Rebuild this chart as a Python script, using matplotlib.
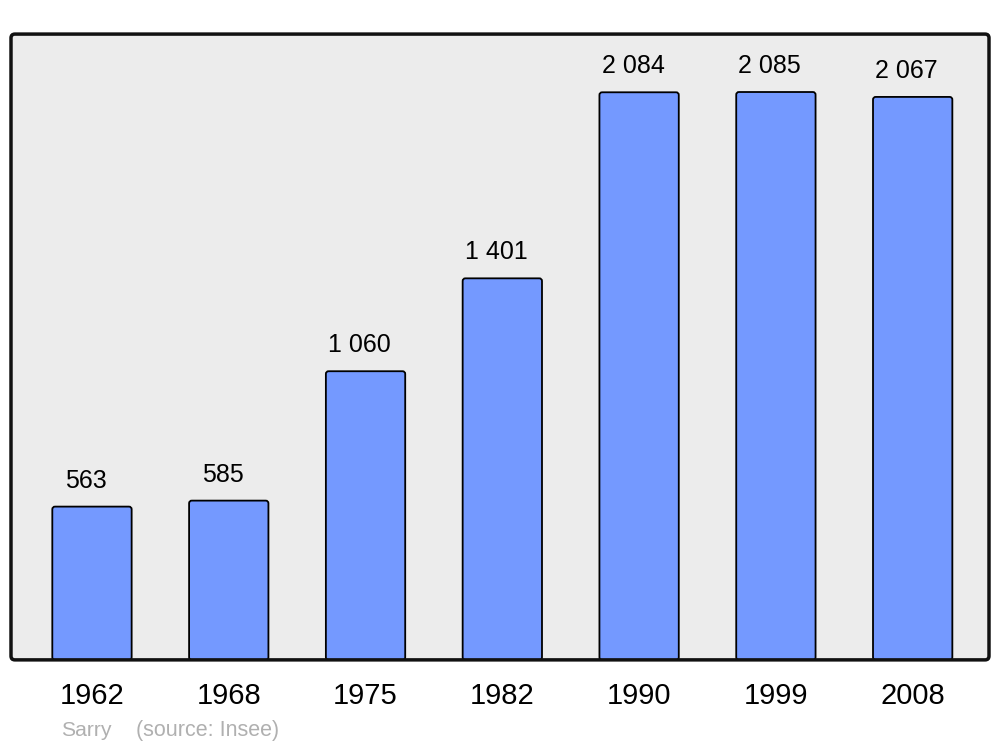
import matplotlib.pyplot as plt
from matplotlib.patches import FancyBboxPatch

plt.rcParams['font.family'] = ['Liberation Sans', 'DejaVu Sans']

# population data
years = ['1962', '1968', '1975', '1982', '1990', '1999', '2008']
population = [563, 585, 1060, 1401, 2084, 2085, 2067]
value_labels = ['563', '585', '1 060', '1 401', '2 084', '2 085', '2 067']

fig = plt.figure(figsize=(10, 7.47), dpi=100)
ax = fig.add_axes([0.011, 0.1165, 0.978, 0.838])
ax.set_facecolor('#ececec')

x = list(range(len(years)))
bars = ax.bar(x, population, width=0.58, color='#7499ff', edgecolor='black', linewidth=1.3)

ax.set_xlim(-0.592, 6.558)
ax.set_ylim(0, 2298)

# swap plain bars for rounded ones
for b in bars:
    bx, by = b.get_x(), b.get_y()
    w, h = b.get_width(), b.get_height()
    r = 0.02
    rounded = FancyBboxPatch((bx + r, by + r * 500), w - 2 * r, h - 2 * r * 500,
                             boxstyle='round,pad=%f,rounding_size=%f' % (r, r),
                             mutation_aspect=500, facecolor='#7499ff',
                             edgecolor='black', linewidth=1.3, zorder=2)
    ax.add_patch(rounded)
    b.set_visible(False)

for xi, val, lab in zip(x, population, value_labels):
    ax.annotate(lab, (xi - 0.045, val), xytext=(0, 10), textcoords='offset points',
                ha='center', va='bottom', fontsize=18)

ax.set_xticks(x)
ax.set_xticklabels(years, fontsize=21)
ax.tick_params(axis='x', length=0, pad=16)
ax.set_yticks([])
for s in ax.spines.values():
    s.set_visible(False)

# rounded frame around the plot area
frame = FancyBboxPatch((0.004, 0.0064), 0.992, 0.9872,
                       boxstyle='round,pad=0.004,rounding_size=0.004',
                       mutation_aspect=1.56, transform=ax.transAxes,
                       facecolor='none', edgecolor='#111111', linewidth=2.5,
                       clip_on=False, zorder=5)
ax.add_patch(frame)

fig.text(0.061, 0.0225, 'Sarry', color='#b0b0b0', fontsize=15.2,
         ha='left', va='center')
fig.text(0.136, 0.0225, '(source: Insee)', color='#b0b0b0', fontsize=15.5,
         ha='left', va='center')

fig.savefig('out.png', dpi=100)
